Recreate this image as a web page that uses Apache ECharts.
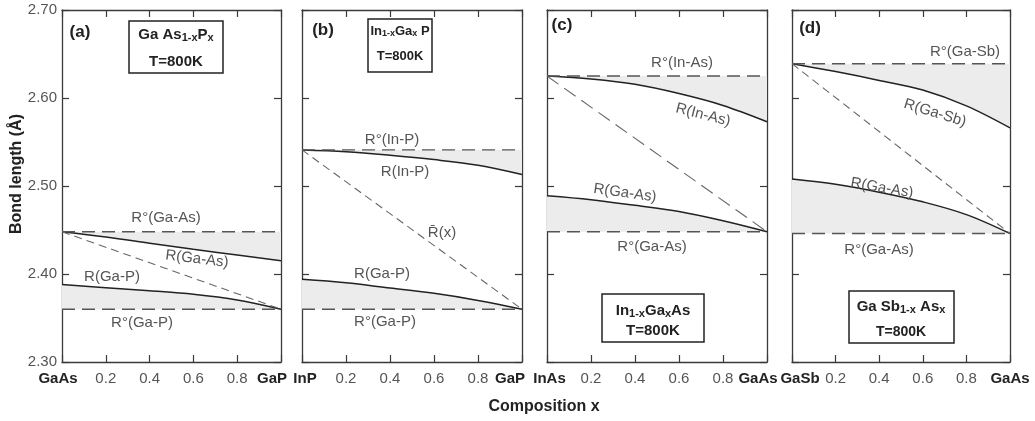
<!DOCTYPE html>
<html><head><meta charset="utf-8">
<script src="https://cdn.jsdelivr.net/npm/echarts@6/dist/echarts.min.js"></script>
<style>html,body{margin:0;padding:0;background:#fff}#c{width:1035px;height:421px}</style>
</head><body><div id="c"></div>
<script>
// ---------------- data ----------------
const compX = [0, 0.2, 0.4, 0.6, 0.8, 1.0];
const yTicks = [2.30, 2.40, 2.50, 2.60, 2.70];
const panelTags = ['(a)', '(b)', '(c)', '(d)'];
const endLeft = ['GaAs', 'InP', 'InAs', 'GaSb'];
const endRight = ['GaP', 'GaP', 'GaAs', 'GaAs'];
// binary reference bond lengths R° (upper / lower pair in each panel)
const refUpper = [2.448, 2.541, 2.625, 2.639];
const refLower = [2.360, 2.360, 2.448, 2.446];
// alloy bond lengths R(x)
const upperA = [2.448, 2.442, 2.435, 2.428, 2.4215, 2.415]; // R(Ga-As)
const lowerA = [2.388, 2.3845, 2.381, 2.377, 2.3705, 2.360]; // R(Ga-P)
const upperB = [2.541, 2.539, 2.535, 2.530, 2.5235, 2.513]; // R(In-P)
const lowerB = [2.394, 2.390, 2.384, 2.378, 2.370, 2.360];  // R(Ga-P)
const upperC = [2.625, 2.6215, 2.6155, 2.605, 2.5915, 2.573]; // R(In-As)
const lowerC = [2.489, 2.4845, 2.478, 2.471, 2.4605, 2.448]; // R(Ga-As)
const upperD = [2.639, 2.630, 2.620, 2.609, 2.591, 2.566];  // R(Ga-Sb)
const lowerD = [2.508, 2.502, 2.493, 2.482, 2.4675, 2.446]; // R(Ga-As)
// mean bond length R̄(x) end points (x = 0 and x = 1)
const meanX = [0, 1];
const meanA = [2.448, 2.360];
const meanB = [2.541, 2.360];
const meanC = [2.625, 2.448];
const meanD = [2.639, 2.446];

const uppers = [upperA, upperB, upperC, upperD];
const lowers = [lowerA, lowerB, lowerC, lowerD];
const means = [meanA, meanB, meanC, meanD];

// ---------------- layout / style ----------------
const FONT = 'Liberation Sans, Arial, Helvetica, sans-serif';
const gridLeft = [62, 302, 547, 792];
const gridWidth = [219, 220, 220, 218];
const labelPadL = [[0, 8, 0, 0], [0, 0, 0, 6], [0, 0, 0, 5], [0, 0, 0, 16]];
const labelPadR = [[0, 18, 0, 0], [0, 24, 0, 0], [0, 18, 0, 0], [0, 0, 0, 0]];
const meanDash = [[8, 5], [8, 5], [14, 7], [8, 5]];
const AX = '#3a3a3a';
const FILL = '#ececec';

const grids = [], xAxes = [], yAxes = [], series = [];
const zip = (xs, ys) => xs.map((x, i) => [x, ys[i]]);
const mkTick = () => ({ show: true, inside: true, length: 7, lineStyle: { color: AX, width: 1.2 } });
const mkLine = () => ({ show: true, onZero: false, lineStyle: { color: AX, width: 1.3 } });

for (let p = 0; p < 4; p++) {
  grids.push({ left: gridLeft[p], width: gridWidth[p], top: 10, height: 352 });
  xAxes.push({
    type: 'value', gridIndex: p, min: 0, max: 1, interval: 0.2, position: 'bottom',
    axisLine: mkLine(), axisTick: mkTick(), splitLine: { show: false },
    axisLabel: {
      show: true, margin: 9, showMinLabel: true, showMaxLabel: true,
      color: '#555', fontSize: 15, fontFamily: FONT,
      formatter: v => v === 0 ? '{l|' + endLeft[p] + '}' : (v === 1 ? '{r|' + endRight[p] + '}' : v.toFixed(1)),
      rich: {
        l: { fontWeight: 'bold', color: '#222', fontSize: 15, fontFamily: FONT, padding: labelPadL[p] },
        r: { fontWeight: 'bold', color: '#222', fontSize: 15, fontFamily: FONT, padding: labelPadR[p] }
      }
    }
  });
  xAxes.push({
    type: 'value', gridIndex: p, min: 0, max: 1, interval: 0.2, position: 'top',
    axisLine: mkLine(), axisTick: mkTick(), axisLabel: { show: false }, splitLine: { show: false }
  });
  yAxes.push({
    type: 'value', gridIndex: p, min: yTicks[0], max: yTicks[yTicks.length - 1], interval: 0.1, position: 'left',
    axisLine: mkLine(), axisTick: mkTick(), splitLine: { show: false },
    axisLabel: { show: p === 0, margin: 5, color: '#555', fontSize: 15, fontFamily: FONT, formatter: v => v.toFixed(2) }
  });
  yAxes.push({
    type: 'value', gridIndex: p, min: yTicks[0], max: yTicks[yTicks.length - 1], interval: 0.1, position: 'right',
    axisLine: mkLine(), axisTick: mkTick(), axisLabel: { show: false }, splitLine: { show: false }
  });
  const xi = 2 * p, yi = 2 * p;
  series.push({
    type: 'line', xAxisIndex: xi, yAxisIndex: yi, data: zip(compX, uppers[p]),
    smooth: 0.35, symbol: 'none', silent: true, z: 2,
    lineStyle: { color: '#222', width: 1.5 },
    areaStyle: { color: FILL, opacity: 1, origin: refUpper[p] }
  });
  series.push({
    type: 'line', xAxisIndex: xi, yAxisIndex: yi, data: zip(compX, lowers[p]),
    smooth: 0.35, symbol: 'none', silent: true, z: 2,
    lineStyle: { color: '#222', width: 1.5 },
    areaStyle: { color: FILL, opacity: 1, origin: refLower[p] }
  });
  series.push({
    type: 'line', xAxisIndex: xi, yAxisIndex: yi, data: [[0, refUpper[p]], [1, refUpper[p]]],
    symbol: 'none', silent: true, z: 3,
    lineStyle: { color: '#555', width: 1.4, type: [13, 7] }
  });
  series.push({
    type: 'line', xAxisIndex: xi, yAxisIndex: yi, data: [[0, refLower[p]], [1, refLower[p]]],
    symbol: 'none', silent: true, z: 3,
    lineStyle: { color: '#555', width: 1.4, type: [13, 7] }
  });
  series.push({
    type: 'line', xAxisIndex: xi, yAxisIndex: yi, data: zip(meanX, means[p]),
    symbol: 'none', silent: true, z: 3,
    lineStyle: { color: '#666', width: 1.1, type: meanDash[p] }
  });
}

// ---------------- annotations ----------------
const ann = (text, x, y, rot, size) => ({
  type: 'text', x: x, y: y, rotation: rot || 0, z: 10,
  style: { text: text, fill: '#555', fontSize: size || 15, fontFamily: FONT, align: 'center', verticalAlign: 'middle' }
});
const bold = (text, x, y, size, color) => ({
  type: 'text', x: x, y: y, z: 10,
  style: { text: text, fill: color || '#222', fontSize: size, fontWeight: 'bold', fontFamily: FONT, align: 'center', verticalAlign: 'middle' }
});
const mkRich = (big, small) => ({
  b: { fontSize: big, fontWeight: 'bold', fontFamily: FONT, fill: '#222', color: '#222' },
  s: { fontSize: small, fontWeight: 'bold', fontFamily: FONT, fill: '#222', color: '#222', padding: [6, 0, 0, 0] }
});
const richText = (text, x, y, big, small) => ({
  type: 'text', x: x, y: y, z: 11,
  style: { text: text, rich: mkRich(big, small), fill: '#222', fontFamily: FONT, align: 'center', verticalAlign: 'middle' }
});
const box = (x, y, w, h) => ({
  type: 'rect', z: 9, shape: { x: x, y: y, width: w, height: h },
  style: { fill: '#fff', stroke: '#222', lineWidth: 1.5 }
});

const graphic = [
  { type: 'text', x: 17, y: 174, rotation: Math.PI / 2, z: 10,
    style: { text: 'Bond length (Å)', fill: '#222', fontSize: 16, fontWeight: 'bold', fontFamily: FONT, align: 'center', verticalAlign: 'middle' } },
  bold('Composition x', 544, 407, 16),
  bold(panelTags[0], 80, 32, 17), bold(panelTags[1], 323, 30, 17),
  bold(panelTags[2], 562, 25, 17), bold(panelTags[3], 810, 28, 17),
  // panel (a)
  box(129, 21, 94, 52),
  richText('{b|Ga As}{s|1-x}{b|P}{s|x}', 176, 35, 15, 11),
  bold('T=800K', 176, 62, 15),
  ann('R°(Ga-As)', 166, 218), ann('R(Ga-As)', 197, 259, -0.12),
  ann('R(Ga-P)', 112, 277), ann('R°(Ga-P)', 142, 323),
  // panel (b)
  box(368, 19, 64, 53),
  richText('{b|In}{s|1-x}{b|Ga}{s|x}{b| P}', 400, 31, 13, 9),
  bold('T=800K', 400, 56, 13),
  ann('R°(In-P)', 392, 140), ann('R(In-P)', 405, 172),
  ann('R\u0304(x)', 442, 233), ann('R(Ga-P)', 382, 274), ann('R°(Ga-P)', 385, 322),
  // panel (c)
  box(602, 294, 102, 48),
  richText('{b|In}{s|1-x}{b|Ga}{s|x}{b|As}', 653, 311, 15, 11),
  bold('T=800K', 653, 331, 15),
  ann('R°(In-As)', 682, 63), ann('R(In-As)', 703, 115, -0.25),
  ann('R(Ga-As)', 625, 193, -0.14), ann('R°(Ga-As)', 652, 247),
  // panel (d)
  box(849, 291, 105, 52),
  richText('{b|Ga Sb}{s|1-x}{b| As}{s|x}', 901, 307, 15, 11),
  bold('T=800K', 901, 332, 14),
  ann('R°(Ga-Sb)', 965, 52), ann('R(Ga-Sb)', 935, 113, -0.3),
  ann('R(Ga-As)', 882, 188, -0.17), ann('R°(Ga-As)', 879, 250)
];

const chart = echarts.init(document.getElementById('c'), null, { renderer: 'canvas' });
chart.setOption({
  animation: false,
  backgroundColor: '#fff',
  grid: grids, xAxis: xAxes, yAxis: yAxes, series: series, graphic: graphic
});
</script>
</body></html>
